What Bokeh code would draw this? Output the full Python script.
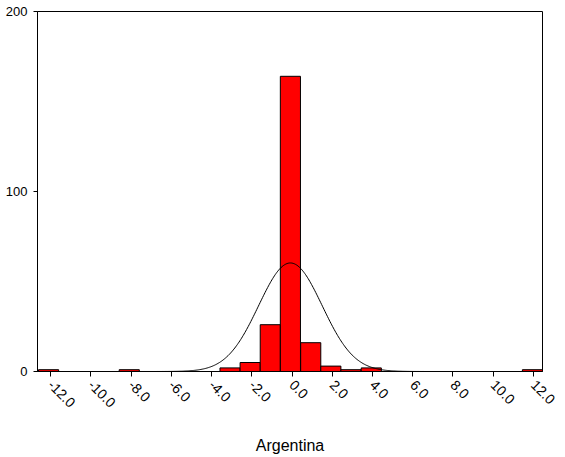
import numpy as np
from bokeh.plotting import figure
from bokeh.models import FixedTicker, PrintfTickFormatter, ColumnDataSource, Range1d
from bokeh.embed import file_html
from bokeh.resources import INLINE

# Histogram data (bin centres and counts)
bin_centers = [-12.1, -8.09, -3.08, -2.08, -1.08, -0.08, 0.93, 1.93, 2.93, 3.94, 11.95]
counts = [1, 1, 2, 5, 26, 164, 16, 3, 1, 2, 1]
bin_width = 1.0

# Normal curve parameters
curve_mean = -0.08
curve_sd = 1.58
curve_peak = 60.3

x_ticks = [-12, -10, -8, -6, -4, -2, 0, 2, 4, 6, 8, 10, 12]
y_ticks = [0, 100, 200]
x_title = "Argentina"

FONT = "Liberation Sans"

p = figure(width=565, height=457, output_backend="svg", toolbar_location=None,
           x_range=Range1d(-12.65, 12.45), y_range=Range1d(0, 200),
           min_border_left=37, min_border_right=23, min_border_top=11, min_border_bottom=86)

p.background_fill_color = "white"
p.border_fill_color = "white"
p.outline_line_color = "black"
p.outline_line_width = 1
p.xgrid.visible = False
p.ygrid.visible = False

src = ColumnDataSource(dict(x=bin_centers, top=counts))
p.vbar(x="x", top="top", width=bin_width, bottom=0, source=src,
       fill_color="#ff0000", line_color="black", line_width=1)

xs = np.linspace(-12.65, 12.45, 600)
ys = curve_peak * np.exp(-0.5 * ((xs - curve_mean) / curve_sd) ** 2)
p.line(xs, ys, line_color="black", line_width=1)

# axes
p.xaxis.ticker = FixedTicker(ticks=x_ticks)
p.xaxis.formatter = PrintfTickFormatter(format="%.1f")
p.xaxis.major_label_orientation = -np.pi / 4
p.xaxis.major_tick_out = 5
p.xaxis.major_tick_in = 0
p.xaxis.minor_tick_line_color = None
p.xaxis.major_label_standoff = 6
p.xaxis.major_label_text_font = FONT
p.xaxis.major_label_text_font_size = "14px"
p.xaxis.major_label_text_color = "black"
p.xaxis.axis_line_color = "black"
p.xaxis.major_tick_line_color = "black"
p.xaxis.axis_label = x_title
p.xaxis.axis_label_text_font = FONT
p.xaxis.axis_label_text_font_size = "16px"
p.xaxis.axis_label_text_font_style = "normal"
p.xaxis.axis_label_text_color = "black"
p.xaxis.axis_label_standoff = 22

p.yaxis.ticker = FixedTicker(ticks=y_ticks)
p.yaxis.major_tick_out = 4
p.yaxis.major_tick_in = 0
p.yaxis.minor_tick_line_color = None
p.yaxis.major_label_standoff = 6
p.yaxis.major_label_text_font = FONT
p.yaxis.major_label_text_font_size = "13px"
p.yaxis.major_label_text_color = "black"
p.yaxis.axis_line_color = "black"
p.yaxis.major_tick_line_color = "black"

open("out.html", "w").write(file_html(p, INLINE))
